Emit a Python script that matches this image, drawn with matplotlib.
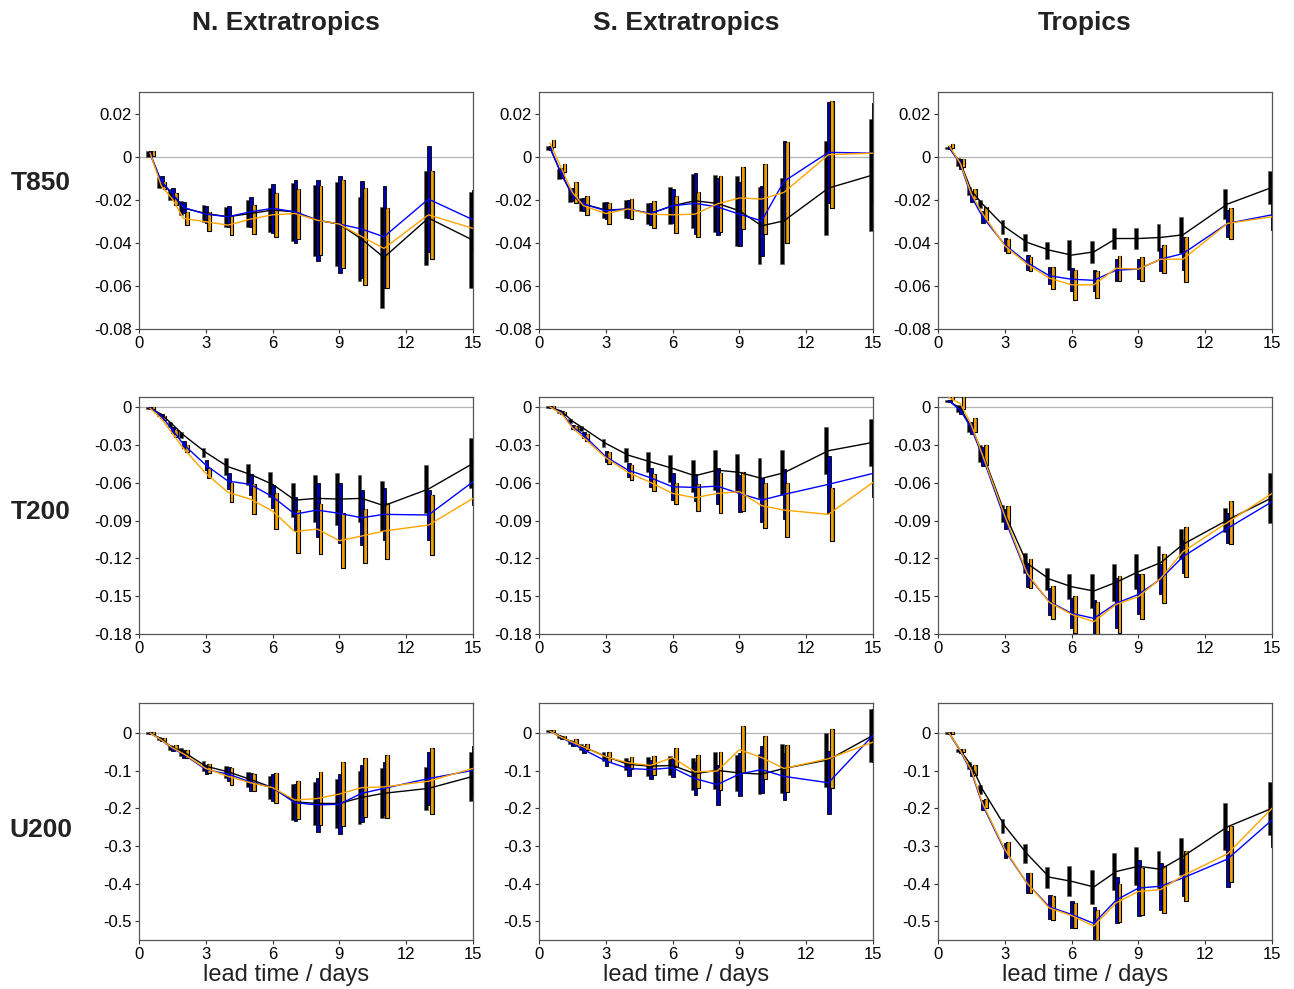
import matplotlib
matplotlib.use("Agg")
import matplotlib.pyplot as plt
import numpy as np

plt.rcParams['font.family'] = ['Liberation Sans', 'DejaVu Sans']

lead = np.array([0.5, 1, 1.5, 2, 3, 4, 5, 6, 7, 8, 9, 10, 11, 13, 15])

regions = ['N. Extratropics', 'S. Extratropics', 'Tropics']
variables = ['T850', 'T200', 'U200']

####T850####
t850_ne_black = [0.0012, -0.0119, -0.0174, -0.0239, -0.0264, -0.0279, -0.0264, -0.0248, -0.0256, -0.0295, -0.0313, -0.0383, -0.0468, -0.0285, -0.0388]
t850_ne_black_err = [0.0012, 0.0025, 0.0026, 0.0031, 0.0040, 0.0047, 0.0064, 0.0102, 0.0135, 0.0164, 0.0194, 0.0195, 0.0233, 0.0217, 0.0223]
t850_ne_blue = [0.0016, -0.0115, -0.0171, -0.0236, -0.0267, -0.0279, -0.0256, -0.0240, -0.0256, -0.0295, -0.0313, -0.0336, -0.0372, -0.0197, -0.0293]
t850_ne_blue_err = [0.0012, 0.0026, 0.0026, 0.0025, 0.0040, 0.0048, 0.0070, 0.0113, 0.0147, 0.0188, 0.0225, 0.0225, 0.0236, 0.0245, 0.0140]
t850_ne_orange = [0.0016, -0.0135, -0.0197, -0.0287, -0.0302, -0.0318, -0.0290, -0.0270, -0.0264, -0.0295, -0.0313, -0.0371, -0.0426, -0.0270, -0.0333]
t850_ne_orange_err = [0.0012, 0.0017, 0.0026, 0.0028, 0.0043, 0.0045, 0.0067, 0.0101, 0.0116, 0.0160, 0.0205, 0.0225, 0.0186, 0.0205, 0.0109]

t850_se_black = [0.0040, -0.0081, -0.0181, -0.0220, -0.0248, -0.0243, -0.0264, -0.0228, -0.0205, -0.0217, -0.0251, -0.0321, -0.0298, -0.0146, -0.0085]
t850_se_black_err = [0.0008, 0.0023, 0.0030, 0.0030, 0.0039, 0.0042, 0.0047, 0.0085, 0.0124, 0.0132, 0.0163, 0.0178, 0.0200, 0.0217, 0.0262]
t850_se_blue = [0.0040, -0.0078, -0.0177, -0.0220, -0.0251, -0.0243, -0.0264, -0.0228, -0.0217, -0.0233, -0.0267, -0.0298, -0.0115, 0.0020, 0.0016]
t850_se_blue_err = [0.0008, 0.0023, 0.0030, 0.0030, 0.0039, 0.0043, 0.0051, 0.0078, 0.0140, 0.0132, 0.0147, 0.0163, 0.0186, 0.0233, 0.0233]
t850_se_orange = [0.0062, -0.0053, -0.0166, -0.0228, -0.0264, -0.0243, -0.0267, -0.0270, -0.0267, -0.0220, -0.0192, -0.0197, -0.0166, 0.0009, 0.0016]
t850_se_orange_err = [0.0016, 0.0019, 0.0047, 0.0043, 0.0047, 0.0047, 0.0062, 0.0085, 0.0105, 0.0132, 0.0143, 0.0163, 0.0233, 0.0248, 0.0233]

t850_tr_black = [0.0040, -0.0026, -0.0158, -0.0220, -0.0326, -0.0398, -0.0434, -0.0457, -0.0442, -0.0380, -0.0380, -0.0375, -0.0363, -0.0220, -0.0143]
t850_tr_black_err = [0.0006, 0.0019, 0.0019, 0.0019, 0.0031, 0.0039, 0.0039, 0.0070, 0.0050, 0.0050, 0.0050, 0.0062, 0.0082, 0.0070, 0.0078]
t850_tr_blue = [0.0043, -0.0034, -0.0186, -0.0279, -0.0409, -0.0491, -0.0553, -0.0569, -0.0574, -0.0527, -0.0522, -0.0476, -0.0450, -0.0310, -0.0270]
t850_tr_blue_err = [0.0006, 0.0022, 0.0023, 0.0028, 0.0031, 0.0034, 0.0039, 0.0054, 0.0050, 0.0050, 0.0047, 0.0054, 0.0078, 0.0062, 0.0070]
t850_tr_orange = [0.0051, -0.0031, -0.0174, -0.0264, -0.0414, -0.0499, -0.0564, -0.0595, -0.0595, -0.0518, -0.0522, -0.0476, -0.0476, -0.0310, -0.0279]
t850_tr_orange_err = [0.0009, 0.0019, 0.0023, 0.0028, 0.0031, 0.0034, 0.0051, 0.0070, 0.0062, 0.0059, 0.0054, 0.0065, 0.0105, 0.0070, 0.0062]

####T200####
t200_ne_black = [-0.0005, -0.0058, -0.0137, -0.0222, -0.0360, -0.0473, -0.0534, -0.0613, -0.0738, -0.0724, -0.0730, -0.0724, -0.0782, -0.0650, -0.0447]
t200_ne_black_err = [0.0008, 0.0013, 0.0021, 0.0026, 0.0037, 0.0069, 0.0085, 0.0100, 0.0132, 0.0185, 0.0206, 0.0185, 0.0198, 0.0193, 0.0198]
t200_ne_blue = [-0.0005, -0.0069, -0.0182, -0.0296, -0.0460, -0.0587, -0.0613, -0.0711, -0.0849, -0.0817, -0.0843, -0.0878, -0.0851, -0.0856, -0.0592]
t200_ne_blue_err = [0.0008, 0.0016, 0.0021, 0.0026, 0.0037, 0.0066, 0.0085, 0.0093, 0.0132, 0.0211, 0.0238, 0.0219, 0.0206, 0.0198, 0.0185]
t200_ne_orange = [-0.0011, -0.0090, -0.0209, -0.0328, -0.0526, -0.0677, -0.0730, -0.0825, -0.0989, -0.0967, -0.1060, -0.1023, -0.0983, -0.0936, -0.0724]
t200_ne_orange_err = [0.0008, 0.0016, 0.0026, 0.0026, 0.0040, 0.0074, 0.0119, 0.0145, 0.0172, 0.0198, 0.0217, 0.0211, 0.0219, 0.0238, 0.0159]

t200_se_black = [0.0000, -0.0032, -0.0111, -0.0169, -0.0288, -0.0381, -0.0434, -0.0486, -0.0545, -0.0500, -0.0518, -0.0566, -0.0521, -0.0346, -0.0280]
t200_se_black_err = [0.0005, 0.0011, 0.0016, 0.0021, 0.0032, 0.0058, 0.0079, 0.0106, 0.0127, 0.0159, 0.0145, 0.0159, 0.0180, 0.0185, 0.0185]
t200_se_blue = [0.0000, -0.0042, -0.0156, -0.0222, -0.0394, -0.0500, -0.0560, -0.0632, -0.0637, -0.0627, -0.0685, -0.0738, -0.0693, -0.0613, -0.0526]
t200_se_blue_err = [0.0005, 0.0011, 0.0016, 0.0026, 0.0042, 0.0053, 0.0074, 0.0106, 0.0106, 0.0145, 0.0145, 0.0172, 0.0198, 0.0225, 0.0185]
t200_se_orange = [0.0000, -0.0050, -0.0164, -0.0243, -0.0402, -0.0518, -0.0597, -0.0685, -0.0719, -0.0685, -0.0671, -0.0782, -0.0817, -0.0851, -0.0597]
t200_se_orange_err = [0.0005, 0.0011, 0.0016, 0.0026, 0.0048, 0.0058, 0.0066, 0.0085, 0.0106, 0.0159, 0.0153, 0.0180, 0.0217, 0.0211, 0.0159]

t200_tr_black = [0.0048, -0.0011, -0.0156, -0.0367, -0.0843, -0.1240, -0.1364, -0.1425, -0.1459, -0.1390, -0.1306, -0.1234, -0.1089, -0.0896, -0.0719]
t200_tr_black_err = [0.0008, 0.0026, 0.0040, 0.0066, 0.0066, 0.0079, 0.0087, 0.0100, 0.0132, 0.0145, 0.0137, 0.0132, 0.0119, 0.0093, 0.0198]
t200_tr_blue = [0.0048, -0.0024, -0.0169, -0.0394, -0.0888, -0.1332, -0.1544, -0.1636, -0.1676, -0.1557, -0.1486, -0.1364, -0.1187, -0.0962, -0.0751]
t200_tr_blue_err = [0.0008, 0.0032, 0.0048, 0.0074, 0.0079, 0.0093, 0.0106, 0.0119, 0.0145, 0.0198, 0.0159, 0.0119, 0.0132, 0.0119, 0.0159]
t200_tr_orange = [0.0074, 0.0029, -0.0143, -0.0381, -0.0862, -0.1319, -0.1549, -0.1644, -0.1702, -0.1565, -0.1504, -0.1359, -0.1147, -0.0915, -0.0685]
t200_tr_orange_err = [0.0013, 0.0048, 0.0058, 0.0079, 0.0079, 0.0114, 0.0132, 0.0145, 0.0159, 0.0225, 0.0180, 0.0193, 0.0198, 0.0172, 0.0159]

####U200####
u200_ne_black = [0.000, -0.015, -0.039, -0.050, -0.088, -0.103, -0.123, -0.145, -0.183, -0.187, -0.187, -0.171, -0.160, -0.147, -0.115]
u200_ne_black_err = [0.002, 0.004, 0.007, 0.011, 0.013, 0.016, 0.019, 0.031, 0.049, 0.057, 0.066, 0.071, 0.066, 0.057, 0.066]
u200_ne_blue = [0.000, -0.018, -0.041, -0.056, -0.097, -0.109, -0.130, -0.145, -0.185, -0.191, -0.189, -0.160, -0.147, -0.121, -0.099]
u200_ne_blue_err = [0.002, 0.004, 0.007, 0.011, 0.013, 0.018, 0.025, 0.035, 0.049, 0.071, 0.079, 0.075, 0.071, 0.071, 0.066]
u200_ne_orange = [0.000, -0.018, -0.039, -0.055, -0.094, -0.115, -0.132, -0.145, -0.178, -0.174, -0.162, -0.145, -0.143, -0.128, -0.094]
u200_ne_orange_err = [0.002, 0.004, 0.007, 0.011, 0.011, 0.022, 0.022, 0.040, 0.050, 0.071, 0.084, 0.079, 0.084, 0.088, 0.062]

u200_se_black = [0.005, -0.009, -0.024, -0.037, -0.062, -0.083, -0.088, -0.086, -0.108, -0.099, -0.106, -0.109, -0.094, -0.071, -0.006]
u200_se_black_err = [0.002, 0.004, 0.006, 0.009, 0.013, 0.016, 0.025, 0.026, 0.042, 0.049, 0.049, 0.053, 0.066, 0.071, 0.071]
u200_se_blue = [0.005, -0.011, -0.028, -0.044, -0.074, -0.094, -0.097, -0.092, -0.121, -0.137, -0.109, -0.097, -0.115, -0.132, -0.006]
u200_se_blue_err = [0.002, 0.004, 0.006, 0.009, 0.013, 0.019, 0.025, 0.026, 0.044, 0.053, 0.057, 0.062, 0.062, 0.084, 0.071]
u200_se_orange = [0.005, -0.011, -0.024, -0.037, -0.063, -0.079, -0.086, -0.065, -0.103, -0.101, -0.044, -0.065, -0.094, -0.068, -0.024]
u200_se_orange_err = [0.002, 0.004, 0.007, 0.009, 0.013, 0.016, 0.025, 0.025, 0.044, 0.051, 0.062, 0.057, 0.063, 0.079, 0.053]

u200_tr_black = [0.000, -0.046, -0.086, -0.150, -0.247, -0.321, -0.383, -0.394, -0.409, -0.368, -0.354, -0.362, -0.328, -0.249, -0.200]
u200_tr_black_err = [0.002, 0.005, 0.009, 0.011, 0.019, 0.025, 0.028, 0.040, 0.046, 0.049, 0.051, 0.049, 0.049, 0.062, 0.071]
u200_tr_blue = [0.000, -0.048, -0.103, -0.191, -0.312, -0.399, -0.462, -0.482, -0.506, -0.444, -0.412, -0.407, -0.385, -0.335, -0.231]
u200_tr_blue_err = [0.002, 0.005, 0.011, 0.013, 0.019, 0.026, 0.031, 0.035, 0.044, 0.062, 0.075, 0.063, 0.049, 0.075, 0.071]
u200_tr_orange = [0.000, -0.046, -0.099, -0.187, -0.309, -0.399, -0.465, -0.485, -0.513, -0.451, -0.421, -0.416, -0.379, -0.321, -0.200]
u200_tr_orange_err = [0.002, 0.005, 0.013, 0.011, 0.019, 0.026, 0.031, 0.034, 0.042, 0.051, 0.063, 0.062, 0.066, 0.075, 0.053]

data = {
    ('T850', 0): (t850_ne_black, t850_ne_black_err, t850_ne_blue, t850_ne_blue_err, t850_ne_orange, t850_ne_orange_err),
    ('T850', 1): (t850_se_black, t850_se_black_err, t850_se_blue, t850_se_blue_err, t850_se_orange, t850_se_orange_err),
    ('T850', 2): (t850_tr_black, t850_tr_black_err, t850_tr_blue, t850_tr_blue_err, t850_tr_orange, t850_tr_orange_err),
    ('T200', 0): (t200_ne_black, t200_ne_black_err, t200_ne_blue, t200_ne_blue_err, t200_ne_orange, t200_ne_orange_err),
    ('T200', 1): (t200_se_black, t200_se_black_err, t200_se_blue, t200_se_blue_err, t200_se_orange, t200_se_orange_err),
    ('T200', 2): (t200_tr_black, t200_tr_black_err, t200_tr_blue, t200_tr_blue_err, t200_tr_orange, t200_tr_orange_err),
    ('U200', 0): (u200_ne_black, u200_ne_black_err, u200_ne_blue, u200_ne_blue_err, u200_ne_orange, u200_ne_orange_err),
    ('U200', 1): (u200_se_black, u200_se_black_err, u200_se_blue, u200_se_blue_err, u200_se_orange, u200_se_orange_err),
    ('U200', 2): (u200_tr_black, u200_tr_black_err, u200_tr_blue, u200_tr_blue_err, u200_tr_orange, u200_tr_orange_err),
}

xticks = [0, 3, 6, 9, 12, 15]
yticks = {
    'T850': [0.02, 0, -0.02, -0.04, -0.06, -0.08],
    'T200': [0, -0.03, -0.06, -0.09, -0.12, -0.15, -0.18],
    'U200': [0, -0.1, -0.2, -0.3, -0.4, -0.5],
}
ytick_labels = {
    'T850': ['0.02', '0', '-0.02', '-0.04', '-0.06', '-0.08'],
    'T200': ['0', '-0.03', '-0.06', '-0.09', '-0.12', '-0.15', '-0.18'],
    'U200': ['0', '-0.1', '-0.2', '-0.3', '-0.4', '-0.5'],
}
ylims = {'T850': (-0.08, 0.03), 'T200': (-0.18, 0.008), 'U200': (-0.55, 0.08)}

W, H = 1294, 989
fig = plt.figure(figsize=(W / 100, H / 100), dpi=100)

col_left = [139, 539, 938]
row_top = [92, 397, 703]
aw, ah = 334, 237
txt = '#222222'

for r, var in enumerate(variables):
    for c in range(3):
        ax = fig.add_axes([col_left[c] / W, 1 - (row_top[r] + ah) / H, aw / W, ah / H])
        bk, bke, bl, ble, og, oge = [np.array(a) for a in data[(var, c)]]
        ax.axhline(0, color='#b5b5b5', lw=0.9, zorder=1)
        w = 0.17
        ax.bar(lead - 0.1, 2 * bke, bottom=bk - bke, width=w, color='black',
               edgecolor='#555555', lw=0.4, zorder=2)
        ax.bar(lead + 0.03, 2 * ble, bottom=bl - ble, width=w, color='#0000b0',
               edgecolor='black', lw=0.6, zorder=3)
        ax.bar(lead + 0.15, 2 * oge, bottom=og - oge, width=w, color='#b8860b',
               edgecolor='black', lw=0.8, zorder=4)
        ax.vlines(lead + 0.18, og - oge, og + oge, color='orange', lw=1.1, zorder=5)
        ax.plot(lead, bk, color='black', lw=1.0, zorder=6)
        ax.plot(lead, bl, color='blue', lw=1.0, zorder=7)
        ax.plot(lead, og, color='orange', lw=1.0, zorder=8)
        ax.set_xlim(0, 15)
        ax.set_ylim(*ylims[var])
        ax.set_xticks(xticks)
        ax.set_xticklabels([str(t) for t in xticks])
        ax.set_yticks(yticks[var])
        ax.set_yticklabels(ytick_labels[var])
        ax.tick_params(labelsize=12, length=3, width=0.8, pad=2, colors='#333333',
                       labelcolor='black')
        for s in ax.spines.values():
            s.set_color('#555555')
            s.set_linewidth(0.9)

title_x = [286, 686, 1085]
for c, name in enumerate(regions):
    fig.text(title_x[c] / W, 1 - 23 / H, name, ha='center', va='center',
             fontsize=19, fontweight='bold', color=txt)
    fig.text(title_x[c] / W, 1 - 975 / H, 'lead time / days', ha='center',
             va='center', fontsize=17, color=txt)

label_y = [183, 512, 830]
for r, var in enumerate(variables):
    fig.text(41 / W, 1 - label_y[r] / H, var, ha='center', va='center',
             fontsize=19, fontweight='bold', color=txt)

fig.savefig('out.png', dpi=100)
